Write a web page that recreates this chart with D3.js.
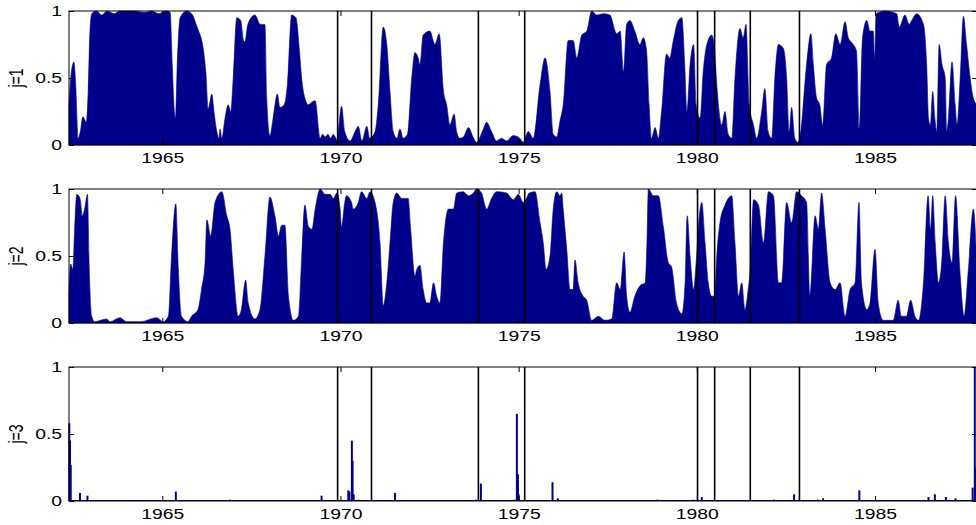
<!DOCTYPE html>
<html>
<head>
<meta charset="utf-8">
<script src="https://cdn.jsdelivr.net/npm/d3@7"></script>
<style>
  body { margin: 0; background: #fff; }
  svg { display: block; }
  text { font-family: "Liberation Sans", Arial, sans-serif; font-size: 14px; fill: #000; }
</style>
</head>
<body>
<div id="chart"></div>
<script>
// regime probabilities as [year, value]
var j1 = [
  [1962.38,0.30],[1962.45,0.55],[1962.52,0.62],[1962.57,0.45],[1962.64,0.05],[1962.70,0.10],[1962.77,0.21],[1962.87,0.17],
  [1962.92,0.40],[1962.97,0.85],[1963.02,0.98],[1963.15,1.00],[1963.30,0.97],[1963.45,1.00],[1963.65,0.98],[1963.80,1.00],
  [1964.20,1.00],[1964.50,0.99],[1964.70,1.00],[1964.90,0.98],[1965.10,1.00],[1965.22,0.99],[1965.28,0.60],[1965.33,0.28],
  [1965.37,0.20],[1965.42,0.60],[1965.50,0.95],[1965.68,1.00],[1965.85,0.97],[1965.95,0.90],[1966.02,0.85],[1966.13,0.75],
  [1966.22,0.55],[1966.29,0.27],[1966.39,0.38],[1966.45,0.25],[1966.53,0.10],[1966.59,0.05],[1966.62,0.12],[1966.67,0.05],
  [1966.76,0.20],[1966.85,0.30],[1966.92,0.25],[1966.99,0.50],[1967.09,0.95],[1967.20,0.93],[1967.28,0.78],[1967.32,0.77],
  [1967.40,0.90],[1967.60,0.97],[1967.75,0.90],[1967.88,0.90],[1967.93,0.35],[1968.02,0.07],[1968.11,0.20],[1968.23,0.38],
  [1968.30,0.28],[1968.42,0.30],[1968.51,0.45],[1968.63,0.97],[1968.75,0.95],[1968.85,0.70],[1968.91,0.50],[1969.00,0.35],
  [1969.10,0.30],[1969.20,0.32],[1969.29,0.33],[1969.43,0.05],[1969.50,0.08],[1969.57,0.06],[1969.65,0.08],[1969.72,0.05],
  [1969.80,0.08],[1969.90,0.04],[1970.03,0.29],[1970.12,0.10],[1970.27,0.03],[1970.41,0.10],[1970.50,0.14],[1970.60,0.03],
  [1970.74,0.14],[1970.82,0.05],[1970.97,0.10],[1971.06,0.30],[1971.20,0.88],[1971.30,0.75],[1971.39,0.40],[1971.48,0.10],
  [1971.58,0.05],[1971.67,0.12],[1971.76,0.05],[1971.88,0.08],[1972.00,0.50],[1972.09,0.69],[1972.18,0.65],[1972.23,0.60],
  [1972.32,0.82],[1972.51,0.85],[1972.65,0.75],[1972.77,0.83],[1972.89,0.40],[1972.98,0.30],[1973.07,0.15],[1973.19,0.23],
  [1973.26,0.10],[1973.35,0.05],[1973.45,0.06],[1973.59,0.13],[1973.72,0.06],[1973.82,0.02],[1974.01,0.12],[1974.10,0.17],
  [1974.24,0.10],[1974.38,0.03],[1974.52,0.05],[1974.66,0.03],[1974.85,0.07],[1975.03,0.05],[1975.13,0.02],[1975.27,0.10],
  [1975.41,0.05],[1975.60,0.45],[1975.74,0.65],[1975.88,0.40],[1975.97,0.08],[1976.07,0.06],[1976.16,0.18],[1976.25,0.30],
  [1976.39,0.78],[1976.53,0.78],[1976.63,0.65],[1976.77,0.82],[1976.91,0.85],[1977.05,1.00],[1977.19,0.97],[1977.38,0.98],
  [1977.56,0.97],[1977.75,0.83],[1977.85,0.85],[1977.94,0.55],[1978.03,0.90],[1978.12,0.93],[1978.26,0.85],[1978.40,0.75],
  [1978.50,0.80],[1978.59,0.70],[1978.66,0.30],[1978.73,0.05],[1978.83,0.13],[1978.92,0.05],[1979.01,0.25],[1979.15,0.68],
  [1979.24,0.65],[1979.34,0.78],[1979.48,0.93],[1979.58,0.95],[1979.66,0.60],[1979.72,0.25],[1979.81,0.60],[1979.91,0.75],
  [1979.98,0.30],[1980.09,0.20],[1980.18,0.55],[1980.28,0.75],[1980.42,0.82],[1980.50,0.70],[1980.56,0.45],[1980.70,0.15],
  [1980.79,0.25],[1980.88,0.08],[1980.98,0.05],[1981.07,0.50],[1981.21,0.87],[1981.30,0.80],[1981.38,0.90],[1981.47,0.30],
  [1981.59,0.15],[1981.68,0.05],[1981.82,0.25],[1981.91,0.42],[1982.00,0.10],[1982.10,0.05],[1982.19,0.50],[1982.29,0.75],
  [1982.43,0.72],[1982.52,0.50],[1982.59,0.10],[1982.66,0.28],[1982.75,0.05],[1982.83,0.02],[1982.90,0.07],[1983.08,0.60],
  [1983.20,0.83],[1983.27,0.60],[1983.36,0.35],[1983.45,0.30],[1983.53,0.15],[1983.64,0.60],[1983.78,0.65],[1983.90,0.83],
  [1984.02,0.75],[1984.16,0.92],[1984.25,0.80],[1984.39,0.75],[1984.48,0.70],[1984.56,0.12],[1984.65,0.80],[1984.77,0.93],
  [1984.86,0.85],[1984.95,0.85],[1984.99,0.65],[1985.03,0.98],[1985.28,1.00],[1985.61,0.98],[1985.68,0.88],[1985.84,0.97],
  [1985.96,0.90],[1986.03,0.93],[1986.17,0.98],[1986.36,0.90],[1986.45,0.60],[1986.50,0.20],[1986.55,0.15],[1986.62,0.40],
  [1986.68,0.20],[1986.73,0.10],[1986.80,0.75],[1986.88,0.60],[1986.97,0.50],[1987.01,0.10],[1987.06,0.20],[1987.16,0.62],
  [1987.25,0.30],[1987.30,0.15],[1987.39,0.50],[1987.48,0.96],[1987.57,0.75],[1987.67,0.50],[1987.76,0.35],[1987.86,0.30]
];

var j2 = [
  [1962.38,0.20],[1962.43,0.44],[1962.49,0.40],[1962.54,0.70],[1962.60,0.96],[1962.69,0.93],[1962.76,0.80],[1962.82,0.85],
  [1962.90,0.96],[1962.95,0.40],[1963.02,0.05],[1963.10,0.01],[1963.44,0.03],[1963.53,0.01],[1963.81,0.04],[1964.00,0.01],
  [1964.40,0.01],[1964.84,0.04],[1965.03,0.01],[1965.17,0.05],[1965.26,0.50],[1965.38,0.89],[1965.45,0.40],[1965.54,0.05],
  [1965.72,0.01],[1965.82,0.05],[1966.00,0.10],[1966.10,0.25],[1966.20,0.45],[1966.25,0.77],[1966.36,0.65],[1966.48,0.90],
  [1966.67,0.98],[1966.81,0.80],[1966.90,0.70],[1966.99,0.40],[1967.13,0.05],[1967.22,0.10],[1967.34,0.32],[1967.41,0.15],
  [1967.60,0.03],[1967.74,0.10],[1967.88,0.50],[1968.02,0.94],[1968.16,0.80],[1968.26,0.65],[1968.35,0.73],[1968.44,0.73],
  [1968.54,0.20],[1968.68,0.02],[1968.82,0.05],[1968.91,0.48],[1969.00,0.88],[1969.10,0.72],[1969.20,0.70],[1969.29,0.85],
  [1969.43,1.00],[1969.57,0.96],[1969.71,0.96],[1969.80,0.93],[1969.90,0.97],[1969.99,0.85],[1970.03,0.72],[1970.12,0.90],
  [1970.17,0.95],[1970.31,0.90],[1970.36,0.85],[1970.50,0.90],[1970.59,0.98],[1970.74,0.93],[1970.83,0.98],[1970.97,0.90],
  [1971.11,0.60],[1971.20,0.13],[1971.30,0.30],[1971.39,0.60],[1971.48,0.90],[1971.58,0.97],[1971.72,0.93],[1971.90,0.93],
  [1971.97,0.70],[1972.09,0.35],[1972.14,0.40],[1972.23,0.43],[1972.32,0.25],[1972.42,0.15],[1972.51,0.15],[1972.61,0.30],
  [1972.70,0.20],[1972.79,0.15],[1972.89,0.60],[1973.03,0.85],[1973.17,0.85],[1973.26,0.97],[1973.45,0.98],[1973.59,0.95],
  [1973.73,0.97],[1973.82,1.00],[1973.96,0.97],[1974.10,0.85],[1974.24,0.93],[1974.38,0.98],[1974.66,0.97],[1974.85,0.92],
  [1974.99,0.96],[1975.13,0.90],[1975.20,0.92],[1975.30,0.97],[1975.46,0.98],[1975.60,0.75],[1975.69,0.60],[1975.77,0.40],
  [1975.88,0.50],[1975.97,0.85],[1976.07,0.98],[1976.16,0.95],[1976.21,0.97],[1976.25,0.85],[1976.35,0.55],[1976.44,0.25],
  [1976.53,0.25],[1976.58,0.47],[1976.67,0.30],[1976.81,0.20],[1976.91,0.17],[1977.05,0.02],[1977.24,0.05],[1977.42,0.02],
  [1977.61,0.03],[1977.75,0.30],[1977.85,0.25],[1977.96,0.53],[1978.03,0.20],[1978.12,0.08],[1978.26,0.20],[1978.41,0.28],
  [1978.55,0.30],[1978.60,0.60],[1978.64,1.00],[1978.78,0.95],[1978.92,0.95],[1979.06,0.72],[1979.20,0.45],[1979.29,0.42],
  [1979.43,0.15],[1979.58,0.07],[1979.67,0.30],[1979.73,0.80],[1979.81,0.50],[1979.91,0.25],[1979.98,0.45],[1980.07,0.80],
  [1980.14,0.90],[1980.23,0.60],[1980.32,0.30],[1980.42,0.20],[1980.50,0.20],[1980.56,0.50],[1980.65,0.75],[1980.79,0.88],
  [1980.98,0.95],[1981.07,0.60],[1981.17,0.20],[1981.26,0.30],[1981.35,0.10],[1981.44,0.25],[1981.50,0.40],[1981.59,0.92],
  [1981.73,0.88],[1981.87,0.60],[1982.01,0.98],[1982.15,0.95],[1982.29,0.30],[1982.38,0.30],[1982.52,0.90],[1982.66,0.75],
  [1982.80,0.98],[1982.94,0.95],[1983.08,0.90],[1983.17,0.20],[1983.32,0.80],[1983.41,0.70],[1983.50,0.97],[1983.60,0.70],
  [1983.74,0.30],[1983.88,0.25],[1984.02,0.30],[1984.16,0.05],[1984.30,0.25],[1984.44,0.30],[1984.55,0.90],[1984.62,0.30],
  [1984.77,0.10],[1984.86,0.15],[1985.00,0.55],[1985.09,0.15],[1985.23,0.02],[1985.51,0.02],[1985.65,0.17],[1985.74,0.05],
  [1985.88,0.05],[1986.00,0.17],[1986.12,0.05],[1986.22,0.02],[1986.36,0.30],[1986.49,0.95],[1986.56,0.70],[1986.62,0.95],
  [1986.69,0.60],[1986.78,0.30],[1986.87,0.45],[1986.97,0.95],[1987.06,0.60],[1987.16,0.45],[1987.26,0.95],[1987.38,0.40],
  [1987.50,0.05],[1987.62,0.40],[1987.76,0.85],[1987.86,0.40]
];

// j=3 is near zero except for a few spikes
var j3 = [
  [1962.39,0.58],[1962.41,0.45],[1962.43,0.27],[1962.69,0.06],[1962.90,0.04],[1965.38,0.07],[1966.90,0.01],[1969.47,0.04],
  [1970.22,0.08],[1970.25,0.07],[1970.32,0.45],[1970.34,0.30],[1970.37,0.05],[1970.50,0.01],[1971.53,0.06],[1973.80,0.01],
  [1973.94,0.13],[1974.88,0.01],[1974.95,0.65],[1974.98,0.20],[1975.00,0.05],[1975.95,0.14],[1976.10,0.02],[1978.90,0.01],
  [1979.90,0.01],[1980.14,0.03],[1982.16,0.01],[1982.73,0.05],[1983.40,0.01],[1983.54,0.02],[1984.56,0.08],[1986.50,0.03],
  [1986.68,0.05],[1986.99,0.03],[1987.26,0.02],[1987.74,0.10],[1987.80,1.00],[1987.82,0.25]
];

// recession start / end dates (vertical lines)
var recessions = [1969.92, 1970.87, 1973.87, 1975.17, 1980.02, 1980.50, 1981.50, 1982.88];

var xTicks = [1965, 1970, 1975, 1980, 1985];
var yTicks = [0, 0.5, 1];
var labels = ["j=1", "j=2", "j=3"];

var width = 976, height = 525;
var left = 69, right = 977;
var panelTop = [11, 189, 367], panelH = 134;
var stretch = 1.38;   // text in the original looks horizontally stretched
var fill = "#00008b";

var svg = d3.select("#chart").append("svg")
    .attr("width", width)
    .attr("height", height);

var x = d3.scaleLinear()
    .domain([1962.382, 1987.862])
    .range([left, right]);

function drawPanel(i, series, asSpikes) {
    var top = panelTop[i], bottom = top + panelH;
    var y = d3.scaleLinear().domain([0, 1]).range([bottom, top]);

    var g = svg.append("g");

    if (!asSpikes) {
        var area = d3.area()
            .curve(d3.curveMonotoneX)
            .x(function (d) { return x(d[0]); })
            .y0(bottom)
            .y1(function (d) { return y(d[1]); });
        g.append("path")
            .datum(series)
            .attr("d", area)
            .attr("fill", fill)
            .attr("stroke", fill)
            .attr("stroke-width", 0.6);
    } else {
        g.append("line")
            .attr("x1", x.range()[0]).attr("x2", x.range()[1])
            .attr("y1", y(0) - 0.5).attr("y2", y(0) - 0.5)
            .attr("stroke", fill).attr("stroke-width", 1);
        g.selectAll("rect.spike")
            .data(series)
            .enter().append("rect")
            .attr("class", "spike")
            .attr("x", function (d) { return x(d[0]) - 1; })
            .attr("width", 2)
            .attr("y", function (d) { return y(d[1]); })
            .attr("height", function (d) { return bottom - y(d[1]); })
            .attr("fill", fill);
    }

    // recession markers
    g.selectAll("line.rec")
        .data(recessions)
        .enter().append("line")
        .attr("class", "rec")
        .attr("x1", function (d) { return x(d); })
        .attr("x2", function (d) { return x(d); })
        .attr("y1", top).attr("y2", bottom)
        .attr("stroke", "#000")
        .attr("stroke-width", 1.6);

    // box
    g.append("rect")
        .attr("x", left).attr("y", top)
        .attr("width", right - left).attr("height", panelH)
        .attr("fill", "none")
        .attr("stroke", "#000")
        .attr("stroke-width", 1);

    // axes, ticks pointing in
    var xb = g.append("g")
        .attr("transform", "translate(0," + bottom + ")")
        .call(d3.axisBottom(x).tickValues(xTicks).tickSize(-5).tickPadding(8).tickFormat(d3.format("d")));
    var xt = g.append("g")
        .attr("transform", "translate(0," + top + ")")
        .call(d3.axisTop(x).tickValues(xTicks).tickSize(-5).tickFormat(""));
    var yl = g.append("g")
        .attr("transform", "translate(" + left + ",0)")
        .call(d3.axisLeft(y).tickValues(yTicks).tickSize(-5).tickPadding(5).tickFormat(d3.format("")));
    var yr = g.append("g")
        .attr("transform", "translate(" + right + ",0)")
        .call(d3.axisRight(y).tickValues(yTicks).tickSize(-5).tickFormat(""));

    [xb, xt, yl, yr].forEach(function (a) {
        a.select(".domain").remove();
        a.selectAll(".tick line").attr("stroke", "#000");
        a.selectAll("text")
            .attr("font-family", null)
            .attr("font-size", null)
            .attr("fill", "#000")
            .attr("transform", "scale(" + stretch + ",1)");
    });

    g.append("text")
        .attr("text-anchor", "middle")
        .attr("transform", "translate(23," + (top + panelH / 2) + ") scale(" + stretch + ",1) rotate(-90)")
        .text(labels[i]);
}

drawPanel(0, j1, false);
drawPanel(1, j2, false);
drawPanel(2, j3, true);
</script>
</body>
</html>
